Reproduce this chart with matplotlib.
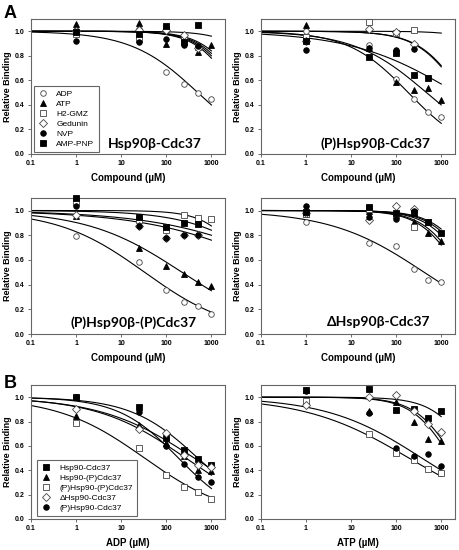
import numpy as np
import matplotlib
matplotlib.use('Agg')
import matplotlib.pyplot as plt
from matplotlib.ticker import FixedLocator, FixedFormatter, NullLocator

plt.rcParams['font.family'] = ['Liberation Sans', 'DejaVu Sans']

# concentrations tested (uM)
conc = [1, 25, 100, 250, 500, 1000]

# ---- panel A: compounds against each complex ----
compounds = ['ADP', 'ATP', 'H2-GMZ', 'Gedunin', 'NVP', 'AMP-PNP']

# relative binding, one row per compound (nan = not measured)
nan = np.nan
wt_binding = [
    [1.01, 1.02, 0.67, 0.57, 0.50, 0.45],
    [1.06, 1.07, 0.90, 0.92, 0.83, 0.89],
    [0.98, 0.94, 1.02, 0.93, 0.87, nan],
    [1.00, 1.01, 1.01, 0.97, 0.86, nan],
    [0.92, 0.91, 0.94, 0.89, 0.88, nan],
    [0.99, 0.98, 1.04, 0.91, 1.05, nan],
]
p_binding = [
    [1.00, 0.89, 0.61, 0.45, 0.345, 0.30],
    [1.05, 0.865, 0.585, 0.525, 0.535, 0.44],
    [0.95, 1.075, 0.985, 1.01, nan, nan],
    [0.92, 1.02, 0.99, 0.90, nan, nan],
    [0.85, 0.86, 0.845, 0.855, nan, nan],
    [0.92, 0.79, 0.825, 0.645, 0.62, nan],
]
pp_binding = [
    [0.79, 0.585, 0.36, 0.26, 0.225, 0.165],
    [0.955, 0.70, 0.55, 0.49, 0.425, 0.385],
    [1.07, 0.925, 0.84, 0.96, 0.94, 0.935],
    [0.965, 0.875, 0.775, 0.80, 0.80, nan],
    [1.04, 0.875, 0.775, 0.80, 0.80, nan],
    [1.10, 0.945, 0.865, 0.90, 0.89, nan],
]
d_binding = [
    [0.905, 0.735, 0.71, 0.525, 0.44, 0.425],
    [0.97, 1.00, 0.96, 0.91, 0.815, 0.755],
    [0.975, 1.01, 0.96, 0.87, 0.91, nan],
    [0.98, 0.92, 1.04, 1.015, nan, nan],
    [1.04, 0.95, 0.935, 1.00, nan, nan],
    [0.99, 1.03, 0.98, 0.98, 0.91, 0.815],
]

# fitted curves: y = 1 / (1 + (x/ic50)^hill)
wt_ic50 = [500, 5250, 3550, 4545, 4000, 24000]
wt_hill = [0.586, 1, 1, 1, 1, 1]
p_ic50 = [186, 471, 65800, 2857, 2700, 2127]
p_hill = [0.653, 0.54, 1, 0.9, 0.9, 0.374]
pp_ic50 = [33, 223, 7000, 46500, 101000, 27700]
pp_hill = [0.45, 0.412, 1, 0.3, 0.3, 0.5]
d_ic50 = [417, 2570, 3000, 4880, 4000, 5670]
d_hill = [0.417, 1, 1, 1, 1, 1]

# ---- panel B: ADP / ATP against each complex ----
complexes = ['Hsp90-Cdc37', 'Hsp90-(P)Cdc37', '(P)Hsp90-(P)Cdc37',
             '\u0394Hsp90-Cdc37', '(P)Hsp90-Cdc37']
adp_binding = [
    [1.005, 0.92, 0.665, 0.565, 0.49, 0.445],
    [0.845, 0.77, 0.62, 0.52, 0.40, 0.39],
    [0.79, 0.585, 0.36, 0.26, 0.22, 0.165],
    [0.905, 0.735, 0.71, 0.525, 0.44, 0.43],
    [1.00, 0.88, 0.60, 0.455, 0.345, 0.30],
]
atp_binding = [
    [1.06, 1.07, 0.895, 0.90, 0.825, 0.885],
    [1.06, 0.885, 0.96, 0.80, 0.66, 0.64],
    [0.965, 0.695, 0.545, 0.485, 0.41, 0.375],
    [0.935, 1.00, 1.015, 0.885, 0.78, 0.715],
    [1.05, 0.87, 0.585, 0.52, 0.53, 0.435],
]
adp_ic50 = [500, 270, 33, 417, 186]
adp_hill = [0.586, 0.44, 0.45, 0.417, 0.653]
atp_ic50 = [5250, 1632, 193, 1940, 372]
atp_hill = [1, 1, 0.376, 1, 0.41]

# marker styles
compound_marker = ['o', '^', 's', 'D', 'o', 's']
compound_fill = [False, True, False, False, True, True]
complex_marker = ['s', '^', 's', 'D', 'o']
complex_fill = [True, True, False, False, True]

fig = plt.figure(figsize=(4.6, 5.5), dpi=100)

lefts = [0.0674, 0.567]
rows = [(0.72, 0.2455), (0.3927, 0.247), (0.0564, 0.2436)]
w = 0.4217

xfit = np.logspace(-1, 3, 200)


def draw_panel(ax, data, ic50, hill, names, markers, fills, xlabel):
    for ys, c, h in zip(data, ic50, hill):
        ax.plot(xfit, 1.0 / (1.0 + (xfit / c) ** h), color='black', lw=0.8, zorder=2)
    for ys, name, m, f in zip(data, names, markers, fills):
        ms = 3.6 if m == 'D' else 4.0
        ax.plot(conc, ys, ls='none', marker=m, ms=ms, mew=0.6,
                mfc='black' if f else 'white', mec='black' if f else '#444444',
                label=name, zorder=3, clip_on=False)
    ax.set_xscale('log')
    ax.set_xlim(0.1, 2000)
    ax.set_ylim(0, 1.1)
    ax.xaxis.set_major_locator(FixedLocator([0.1, 1, 10, 100, 1000]))
    ax.xaxis.set_major_formatter(FixedFormatter(['0.1', '1', '10', '100', '1000']))
    ax.xaxis.set_minor_locator(NullLocator())
    ax.set_yticks([0, 0.2, 0.4, 0.6, 0.8, 1.0])
    ax.set_yticklabels(['0.0', '0.2', '0.4', '0.6', '0.8', '1.0'])
    ax.tick_params(direction='out', length=2.5, width=0.6, labelsize=5, pad=2,
                   color='#555555')
    for lab in ax.get_xticklabels() + ax.get_yticklabels():
        lab.set_fontweight('bold')
    for s in ax.spines.values():
        s.set_color('#666666')
        s.set_linewidth(0.8)
    ax.set_xlabel(xlabel, fontsize=7, fontweight='bold', labelpad=4)
    ax.set_ylabel('Relative Binding', fontsize=6.5, fontweight='bold', labelpad=2)


title_font = dict(fontsize=10, fontweight='bold', family=['Lato', 'DejaVu Sans'],
                  ha='center', va='center')

ax1 = fig.add_axes([lefts[0], rows[0][0], w, rows[0][1]])
draw_panel(ax1, wt_binding, wt_ic50, wt_hill, compounds, compound_marker,
           compound_fill, 'Compound (\u00b5M)')
ax1.text(0.64, 0.075, 'Hsp90\u03b2-Cdc37', transform=ax1.transAxes, **title_font)
leg = ax1.legend(loc='lower left', bbox_to_anchor=(0.015, 0.015), borderaxespad=0,
                 fontsize=6, numpoints=1, handlelength=1.2, handletextpad=1.0,
                 labelspacing=0.25, borderpad=0.5, fancybox=False, framealpha=1)
leg.get_frame().set_edgecolor('#666666')
leg.get_frame().set_linewidth(0.8)

ax2 = fig.add_axes([lefts[1], rows[0][0], w, rows[0][1]])
draw_panel(ax2, p_binding, p_ic50, p_hill, compounds, compound_marker,
           compound_fill, 'Compound (\u00b5M)')
ax2.text(0.59, 0.075, '(P)Hsp90\u03b2-Cdc37', transform=ax2.transAxes, **title_font)

ax3 = fig.add_axes([lefts[0], rows[1][0], w, rows[1][1]])
draw_panel(ax3, pp_binding, pp_ic50, pp_hill, compounds, compound_marker,
           compound_fill, 'Compound (\u00b5M)')
ax3.text(0.53, 0.085, '(P)Hsp90\u03b2-(P)Cdc37', transform=ax3.transAxes, **title_font)

ax4 = fig.add_axes([lefts[1], rows[1][0], w, rows[1][1]])
draw_panel(ax4, d_binding, d_ic50, d_hill, compounds, compound_marker,
           compound_fill, 'Compound (\u00b5M)')
ax4.text(0.606, 0.085, '\u0394Hsp90\u03b2-Cdc37', transform=ax4.transAxes, **title_font)

ax5 = fig.add_axes([lefts[0], rows[2][0], w, rows[2][1]])
draw_panel(ax5, adp_binding, adp_ic50, adp_hill, complexes, complex_marker,
           complex_fill, 'ADP (\u00b5M)')
leg = ax5.legend(loc='lower left', bbox_to_anchor=(0.03, 0.022), borderaxespad=0,
                 fontsize=6, numpoints=1, handlelength=1.2, handletextpad=1.0,
                 labelspacing=0.25, borderpad=0.5, fancybox=False, framealpha=1)
leg.get_frame().set_edgecolor('#666666')
leg.get_frame().set_linewidth(0.8)

ax6 = fig.add_axes([lefts[1], rows[2][0], w, rows[2][1]])
draw_panel(ax6, atp_binding, atp_ic50, atp_hill, complexes, complex_marker,
           complex_fill, 'ATP (\u00b5M)')

fig.text(0.008, 0.975, 'A', fontsize=13, fontweight='bold', va='center')
fig.text(0.008, 0.303, 'B', fontsize=13, fontweight='bold', va='center')

fig.savefig('out.png', dpi=100)
